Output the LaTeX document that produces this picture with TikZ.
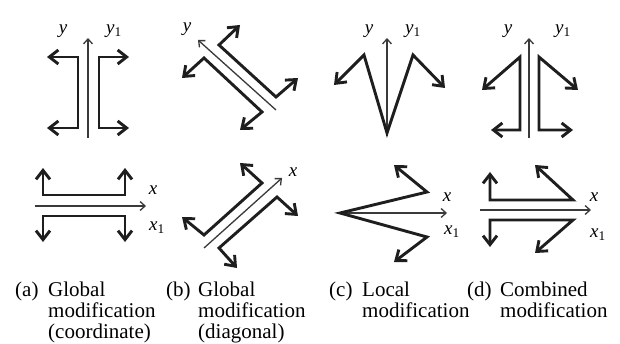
\documentclass[tikz,border=0pt]{standalone}
\usepackage{fontspec}
\setmainfont{Liberation Serif}
\usetikzlibrary{arrows.meta}
\definecolor{ink}{HTML}{1E1E1E}
\definecolor{thinink}{HTML}{3A3A3A}
\begin{document}
\begin{tikzpicture}[x=1pt,y=-1pt,
  bigarrow/.style={draw=ink,line width=2.9pt,line join=miter,
    {Straight Barb[length=9pt,width=14pt]}-{Straight Barb[length=9pt,width=14pt]}},
  axisarrow/.style={draw=thinink,line width=1.3pt,-{Straight Barb[length=5pt,width=9pt]}},
  axlabel/.style={inner sep=0pt,font=\fontsize{19}{19}\selectfont\itshape},
  caplabel/.style={anchor=base west,inner sep=0pt,font=\fontsize{21}{21}\selectfont},
]
\useasboundingbox (0,0) rectangle (620,344);
\fill[white] (0,0) rectangle (620,344);

% ---------- (a) top ----------
\coordinate (a1s) at (88,138); \coordinate (a1e) at (88,38);
\draw[axisarrow] (a1s) -- (a1e);
\draw[bigarrow] (47,57) -- (78,57) -- (78,128) -- (47,128);
\draw[bigarrow] (129,57) -- (99,57) -- (99,128) -- (129,128);
\node[axlabel] (ay) at (63,31) {y};
\node[axlabel] (ay1) at (114,31) {y\textsubscript{\upshape 1}};

% ---------- (a) bottom ----------
\coordinate (a2s) at (35,206); \coordinate (a2e) at (146,206);
\draw[axisarrow] (a2s) -- (a2e);
\draw[bigarrow] (43,168) -- (43,195) -- (125,195) -- (125,168);
\draw[bigarrow] (43,242) -- (43,216) -- (125,216) -- (125,242);
\node[axlabel] (ax) at (153,190) {x};
\node[axlabel] (ax1) at (157,228) {x\textsubscript{\upshape 1}};

% ---------- (b) top ----------
\coordinate (b1s) at (276,110); \coordinate (b1e) at (198,40);
\draw[axisarrow] (b1s) -- (b1e);
\draw[bigarrow] (182,78) -- (204,58) -- (262,112) -- (240,130);
\draw[bigarrow] (240,25) -- (219,45) -- (276,97) -- (298,78);
\node[axlabel] (by) at (187,29) {y};

% ---------- (b) bottom ----------
\coordinate (b2s) at (204,248); \coordinate (b2e) at (282,178);
\draw[axisarrow] (b2s) -- (b2e);
\draw[bigarrow] (182,217) -- (204,235) -- (262,183) -- (240,163);
\draw[bigarrow] (237,268) -- (219,248) -- (277,197) -- (298,216);
\node[axlabel] (bx) at (293,172) {x};

% ---------- (c) top ----------
\coordinate (c1s) at (387,136); \coordinate (c1e) at (387,38);
\draw[axisarrow] (c1s) -- (c1e);
\draw[bigarrow] (334,85) -- (364,55) -- (387,133) -- (413,55) -- (445,88);
\node[axlabel] (cy) at (369,31) {y};
\node[axlabel] (cy1) at (413,31) {y\textsubscript{\upshape 1}};

% ---------- (c) bottom ----------
\coordinate (c2s) at (337,213); \coordinate (c2e) at (447,213);
\draw[axisarrow] (c2s) -- (c2e);
\draw[bigarrow] (394,165) -- (427,192) -- (340,213) -- (427,237) -- (394,262);
\node[axlabel] (cx) at (447,197) {x};
\node[axlabel] (cx1) at (452,232) {x\textsubscript{\upshape 1}};

% ---------- (d) top ----------
\coordinate (d1s) at (529,138); \coordinate (d1e) at (529,38);
\draw[axisarrow] (d1s) -- (d1e);
\draw[bigarrow] (482,90) -- (520,57) -- (520,130) -- (491,130);
\draw[bigarrow] (578,90) -- (539,57) -- (539,130) -- (573,130);
\node[axlabel] (dy) at (508,31) {y};
\node[axlabel] (dy1) at (563,31) {y\textsubscript{\upshape 1}};

% ---------- (d) bottom ----------
\coordinate (d2s) at (480,210); \coordinate (d2e) at (591,210);
\draw[axisarrow] (d2s) -- (d2e);
\draw[bigarrow] (490,172) -- (490,200) -- (573,200) -- (535,165);
\draw[bigarrow] (490,247) -- (490,220) -- (573,220) -- (535,253);
\node[axlabel] (dx) at (594,197) {x};
\node[axlabel] (dx1) at (598,235) {x\textsubscript{\upshape 1}};

% ---------- captions ----------
\node[caplabel] (capa) at (15,296) {(a)};
\node[caplabel] (capa1) at (48,296) {Global};
\node[caplabel] (capa2) at (48,317) {modification};
\node[caplabel] (capa3) at (48,338) {(coordinate)};

\node[caplabel] (capb) at (166,296) {(b)};
\node[caplabel] (capb1) at (198,296) {Global};
\node[caplabel] (capb2) at (198,317) {modification};
\node[caplabel] (capb3) at (198,338) {(diagonal)};

\node[caplabel] (capc) at (329,296) {(c)};
\node[caplabel] (capc1) at (362,296) {Local};
\node[caplabel] (capc2) at (362,317) {modification};

\node[caplabel] (capd) at (467,296) {(d)};
\node[caplabel] (capd1) at (500,296) {Combined};
\node[caplabel] (capd2) at (500,317) {modification};
\end{tikzpicture}
\end{document}
